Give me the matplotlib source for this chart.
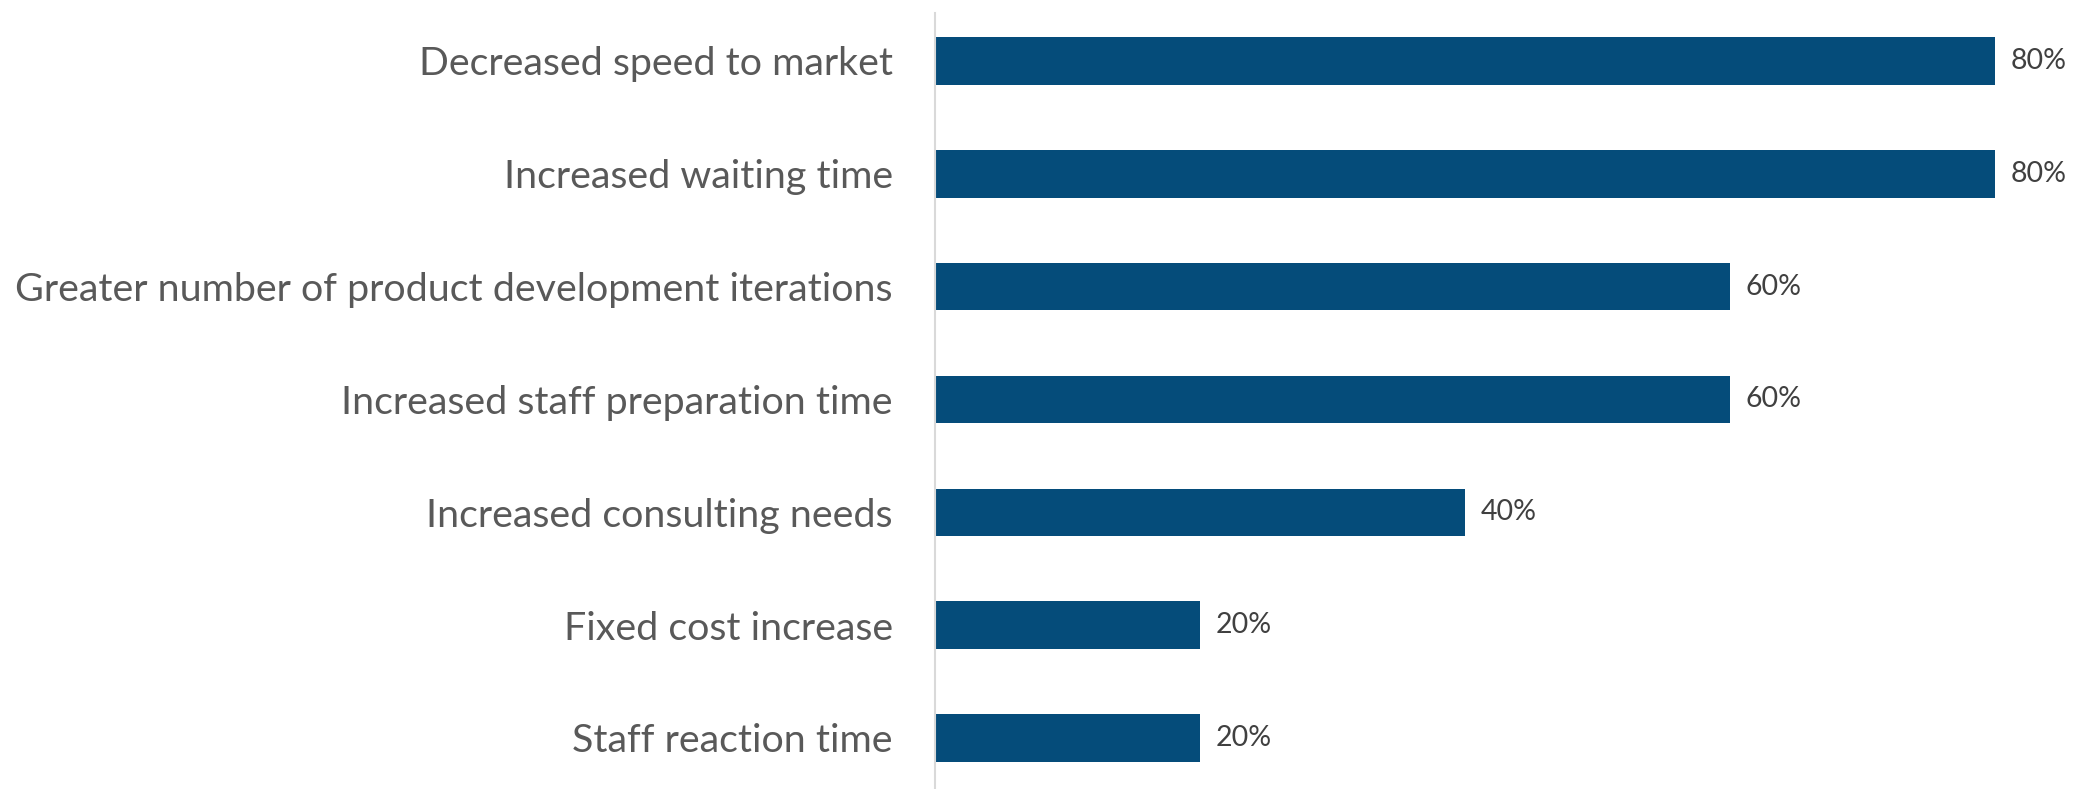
import matplotlib
matplotlib.use("Agg")
import matplotlib.pyplot as plt

plt.rcParams['font.family'] = ['Lato', 'DejaVu Sans']

categories = ["Decreased speed to market",
              "Increased waiting time",
              "Greater number of product development iterations",
              "Increased staff preparation time",
              "Increased consulting needs",
              "Fixed cost increase",
              "Staff reaction time"]
values = [0.80, 0.80, 0.60, 0.60, 0.40, 0.20, 0.20]
value_labels = ["80%", "80%", "60%", "60%", "40%", "20%", "20%"]

fig = plt.figure(figsize=(20.77, 7.89), dpi=100)
ax = fig.add_axes([0.450, 0.0, 0.550, 0.9835])

ypos = list(range(len(categories) - 1, -1, -1))
ax.barh(ypos, values, height=0.42, color="#054C7A")

for y, v, lab in zip(ypos, values, value_labels):
    ax.annotate(lab, (v, y), xytext=(16, 0), textcoords="offset pixels",
                va="center", ha="left", fontsize=20.5, color="#404040")

ax.set_xlim(0, 0.862)
ax.set_ylim(-0.452, 6.425)
ax.set_yticks(ypos)
ax.set_yticklabels(categories, fontsize=28.4, color="#595959")
ax.tick_params(axis="y", length=0, pad=30)
ax.set_xticks([])
for s in ["top", "right", "bottom"]:
    ax.spines[s].set_visible(False)
ax.spines["left"].set_color("#d9d9d9")
ax.spines["left"].set_linewidth(1.5)

fig.savefig("out.png", dpi=100)
